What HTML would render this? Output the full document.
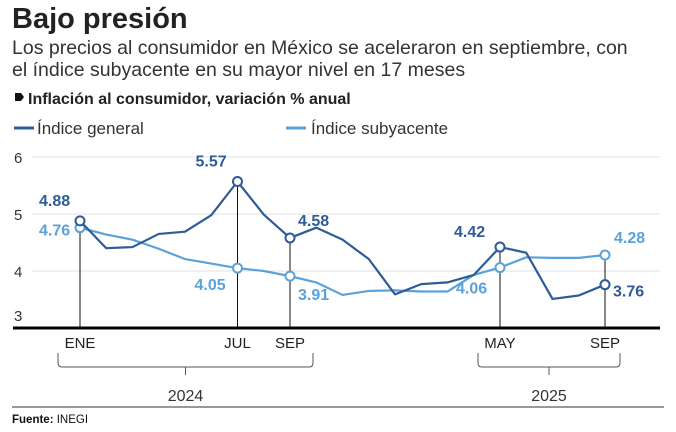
<!DOCTYPE html>
<html><head><meta charset="utf-8"><style>
body{margin:0;background:#fff;width:676px;height:432px;overflow:hidden;font-family:"Liberation Sans",sans-serif;}
svg{position:absolute;left:0;top:0}
</style></head><body>
<svg width="676" height="432">
<text x="12" y="28" font-size="29" font-weight="bold" fill="#222">Bajo presión</text>
<text x="12" y="54" font-size="19.5" fill="#333">Los precios al consumidor en México se aceleraron en septiembre, con</text>
<text x="12" y="76" font-size="19.5" fill="#333">el índice subyacente en su mayor nivel en 17 meses</text>
<path d="M15 93h6l3 4-3 4h-6z" fill="#111"/>
<text x="28" y="104" font-size="16" font-weight="bold" fill="#222">Inflación al consumidor, variación % anual</text>
<line x1="14" y1="128" x2="34" y2="128" stroke="#2d5c98" stroke-width="3"/>
<text x="37" y="134" font-size="17" fill="#333">Índice general</text>
<line x1="286" y1="128" x2="306" y2="128" stroke="#5aa2da" stroke-width="3"/>
<text x="311" y="134" font-size="17" fill="#333">Índice subyacente</text>
<g id="plot"></g>
<line x1="12" y1="407" x2="664" y2="407" stroke="#333" stroke-width="1"/>
<text x="12" y="423" font-size="11.5" fill="#111"><tspan font-weight="bold">Fuente:</tspan> INEGI</text>
</svg>
<script>
const general=[4.88,4.40,4.42,4.65,4.69,4.98,5.57,4.99,4.58,4.76,4.55,4.21,3.59,3.77,3.80,3.93,4.42,4.32,3.51,3.57,3.76];
const core=[4.76,4.64,4.55,4.39,4.21,4.13,4.05,4.00,3.91,3.80,3.58,3.65,3.66,3.64,3.64,3.93,4.06,4.24,4.23,4.23,4.28];
const yTicks=[3,4,5,6];
const marked=[0,6,8,16,20];
const monthLabels=["ENE","JUL","SEP","MAY","SEP"];
const years=["2024","2025"];
const genLabelOff=[[-41,-15],[-42,-15],[8,-12],[-46,-10],[8,12]];
const coreLabelOff=[[-41,8],[-43,22],[8,24],[-44,26],[9,-12]];
const NS="http://www.w3.org/2000/svg";
const g=document.getElementById('plot');
const x=i=>80+i*26.25;
const y=v=>271-(v-4)*57;
function el(t,a,p){const e=document.createElementNS(NS,t);for(const k in a)e.setAttribute(k,a[k]);(p||g).appendChild(e);return e;}
yTicks.forEach(v=>{
  if(v>3){const l=el('line',{x1:32,x2:660,y1:y(v),y2:y(v),stroke:'#e2e2e2','stroke-width':1});
  
  }
  const t=el('text',{x:14,y:v===3?y(v)-7:y(v)+6,'font-size':15,fill:'#333'});t.textContent=v;
  
  
});
marked.forEach((i,k)=>{
  const top=Math.min(y(general[i]),y(core[i]));
  const l=el('line',{x1:x(i),x2:x(i),y1:top,y2:y(3),stroke:'#111','stroke-width':1});
  
  
  const t=el('text',{x:x(i),y:348,'font-size':15,fill:'#222','text-anchor':'middle'});t.textContent=monthLabels[k];
  
  
});
const ax=el('line',{x1:13,x2:660,y1:y(3),y2:y(3),stroke:'#000','stroke-width':3});


[[58,313,0],[478,620,1]].forEach(([a,b,k])=>{
  const p=el('path',{d:`M${a} 353v10q0 4 4 4H${b-4}q4 0 4-4v-10M${(a+b)/2} 367v8`,fill:'none',stroke:'#555','stroke-width':1});
  
  
  const t=el('text',{x:(a+b)/2,y:401,'font-size':16,fill:'#333','text-anchor':'middle'});t.textContent=years[k];
  
  
});
function series(d,col,name,offs){
  const p=el('polyline',{points:d.map((v,i)=>x(i)+','+y(v)).join(' '),fill:'none',stroke:col,'stroke-width':2.2,'stroke-linejoin':'round'});
  
  
  marked.forEach((i,k)=>{
    const c=el('circle',{cx:x(i),cy:y(d[i]),r:4.5,fill:'#fff',stroke:col,'stroke-width':2});
    
    
    const t=el('text',{x:x(i)+offs[k][0],y:y(d[i])+offs[k][1],'font-size':16,'font-weight':'bold',fill:col});
    t.textContent=d[i].toFixed(2);
    
    
  });
}
series(core,'#5aa2da','core',coreLabelOff);
series(general,'#2d5c98','general',genLabelOff);
</script>
</body></html>
